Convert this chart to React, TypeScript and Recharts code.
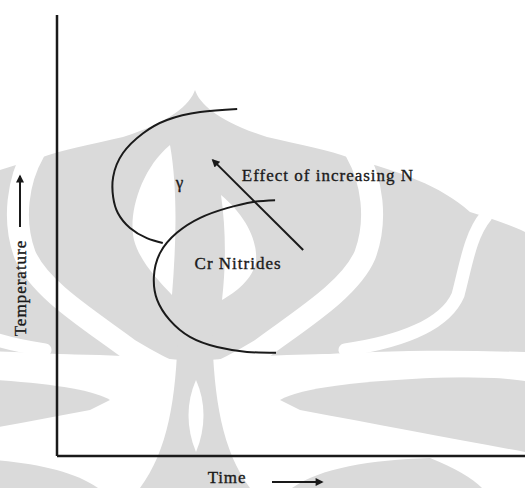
import React from 'react';
import { LineChart, Line, XAxis, YAxis, ReferenceDot, Label } from 'recharts';

// upper C-curve (gamma region boundary)
const gammaCurve = [
  { x: 38.5, y: 78.7 },
  { x: 30.6, y: 78.0 },
  { x: 23.5, y: 76.2 },
  { x: 18.4, y: 73.2 },
  { x: 14.1, y: 68.7 },
  { x: 12.0, y: 63.3 },
  { x: 12.0, y: 58.7 },
  { x: 13.0, y: 55.1 },
  { x: 15.6, y: 51.7 },
  { x: 19.2, y: 49.4 },
  { x: 22.6, y: 48.3 },
];

// lower C-curve (Cr nitrides)
const nitrideCurve = [
  { x: 46.6, y: 58.0 },
  { x: 41.9, y: 57.6 },
  { x: 36.3, y: 56.2 },
  { x: 30.6, y: 54.0 },
  { x: 25.6, y: 50.6 },
  { x: 22.0, y: 46.0 },
  { x: 20.7, y: 40.6 },
  { x: 21.4, y: 35.4 },
  { x: 24.1, y: 30.8 },
  { x: 28.4, y: 27.0 },
  { x: 34.2, y: 24.7 },
  { x: 40.6, y: 23.6 },
  { x: 46.8, y: 23.4 },
];

const nArrow = [
  { x: 52.6, y: 46.7 },
  { x: 33.3, y: 67.1 },
];

const annotations = [
  { x: 26.3, y: 62.1, text: 'γ', pos: 'center' },
  { x: 39.5, y: 63.7, text: 'Effect of increasing N', pos: 'right' },
  { x: 38.7, y: 43.8, text: 'Cr Nitrides', pos: 'center' },
];

const FONT = '"Liberation Serif", "DejaVu Serif", serif';
const INK = '#1a1a1a';
const WM = '#dadada';

// right half of the faded logo behind the scan; mirrored for the left half
const HalfLogo = () => (
  <g>
    <path
      fill={WM}
      d="M195,90 C200,105 220,122 267,137 C300,145 330,150 350,158 C400,172 440,185 470,212
         C490,218 510,225 525,232 L525,352 C450,350 380,350 300,356 C260,360 230,365 195,370 Z"
    />
    <path fill={WM} d="M280,400 C300,388 360,380 460,377 C490,377 510,379 525,381 L525,452 C460,440 380,425 300,410 Z" />
    <path fill={WM} d="M292,488 C320,468 370,460 430,458 C455,468 472,478 482,488 Z" />
    <g fill="none" stroke="#fff" strokeLinecap="round">
      <path strokeWidth={22} d="M356,152 C372,180 378,220 365,255 C350,290 300,320 260,350 C240,362 225,370 210,376" />
      <path strokeWidth={13} d="M486,216 C470,235 466,265 458,295 C445,325 400,342 345,350" />
      <path strokeWidth={24} d="M210,372 C260,366 350,364 530,366" />
    </g>
  </g>
);

const Watermark = () => (
  <svg width={525} height={488} style={{ position: 'absolute', left: 0, top: 0 }}>
    <HalfLogo />
    <g transform="translate(390,0) scale(-1,1)">
      <HalfLogo />
    </g>
    <path fill="#fff" d="M170,145 C140,170 128,215 134,240 C140,262 158,280 172,295 C176,245 178,190 170,145 Z" />
    <path fill="#fff" d="M221,195 C245,215 258,240 256,262 C252,280 236,292 222,300 C226,265 226,230 221,195 Z" />
    <path fill={WM} d="M178,330 L212,330 C214,400 222,450 250,488 L140,488 C168,450 176,400 178,330 Z" />
    <path fill="#fff" d="M196,380 C186,402 186,428 196,452 C206,428 206,402 196,380 Z" />
  </svg>
);

const TempLabel = () => (
  <g>
    <line x1={20} y1={227} x2={20} y2={176} stroke={INK} strokeWidth={2} markerEnd="url(#head)" />
    <text
      x={20}
      y={288}
      transform="rotate(-90 20 288)"
      textAnchor="middle"
      dominantBaseline="central"
      fontFamily={FONT}
      fontSize={17}
      letterSpacing={1}
      fill={INK}
      stroke={INK}
      strokeWidth={0.35}
    >
      Temperature
    </text>
  </g>
);

const TimeLabel = () => (
  <g>
    <text
      x={227}
      y={483}
      textAnchor="middle"
      fontFamily={FONT}
      fontSize={17}
      letterSpacing={0.8}
      fill={INK}
      stroke={INK}
      strokeWidth={0.35}
    >
      Time
    </text>
    <line x1={272} y1={482} x2={322} y2={482} stroke={INK} strokeWidth={2} markerEnd="url(#head)" />
  </g>
);

export default function App() {
  return (
    <div style={{ position: 'absolute', left: 0, top: 0, width: 525, height: 488, background: '#fff' }}>
      <Watermark />
      <div style={{ position: 'absolute', left: 0, top: 0 }}>
        <LineChart width={525} height={488} margin={{ top: 15, right: 0, left: 0, bottom: 0 }}>
          <defs>
            <marker id="head" viewBox="0 0 10 10" refX="8" refY="5" markerWidth="7" markerHeight="4" orient="auto" markerUnits="strokeWidth">
              <path d="M0,0 L10,5 L0,10 z" fill={INK} />
            </marker>
          </defs>
          <XAxis
            type="number"
            dataKey="x"
            domain={[0, 100]}
            height={32}
            tick={false}
            tickLine={false}
            axisLine={{ stroke: INK, strokeWidth: 2.5 }}
            label={{ content: TimeLabel }}
          />
          <YAxis
            type="number"
            dataKey="y"
            domain={[0, 100]}
            width={57}
            tick={false}
            tickLine={false}
            axisLine={{ stroke: INK, strokeWidth: 2.5 }}
            label={{ content: TempLabel }}
          />
          <Line data={gammaCurve} dataKey="y" type="natural" stroke={INK} strokeWidth={2} dot={false} isAnimationActive={false} />
          <Line data={nitrideCurve} dataKey="y" type="natural" stroke={INK} strokeWidth={2} dot={false} isAnimationActive={false} />
          <Line
            data={nArrow}
            dataKey="y"
            type="linear"
            stroke={INK}
            strokeWidth={2}
            dot={false}
            markerEnd="url(#head)"
            isAnimationActive={false}
          />
          {annotations.map((a) => (
            <ReferenceDot key={a.text} x={a.x} y={a.y} r={0} fill="none" stroke="none">
              <Label
                value={a.text}
                position={a.pos as any}
                offset={0}
                fontFamily={FONT}
                fontSize={17}
                letterSpacing={1}
                fill={INK}
                stroke={INK}
                strokeWidth={0.35}
              />
            </ReferenceDot>
          ))}
        </LineChart>
      </div>
    </div>
  );
}
